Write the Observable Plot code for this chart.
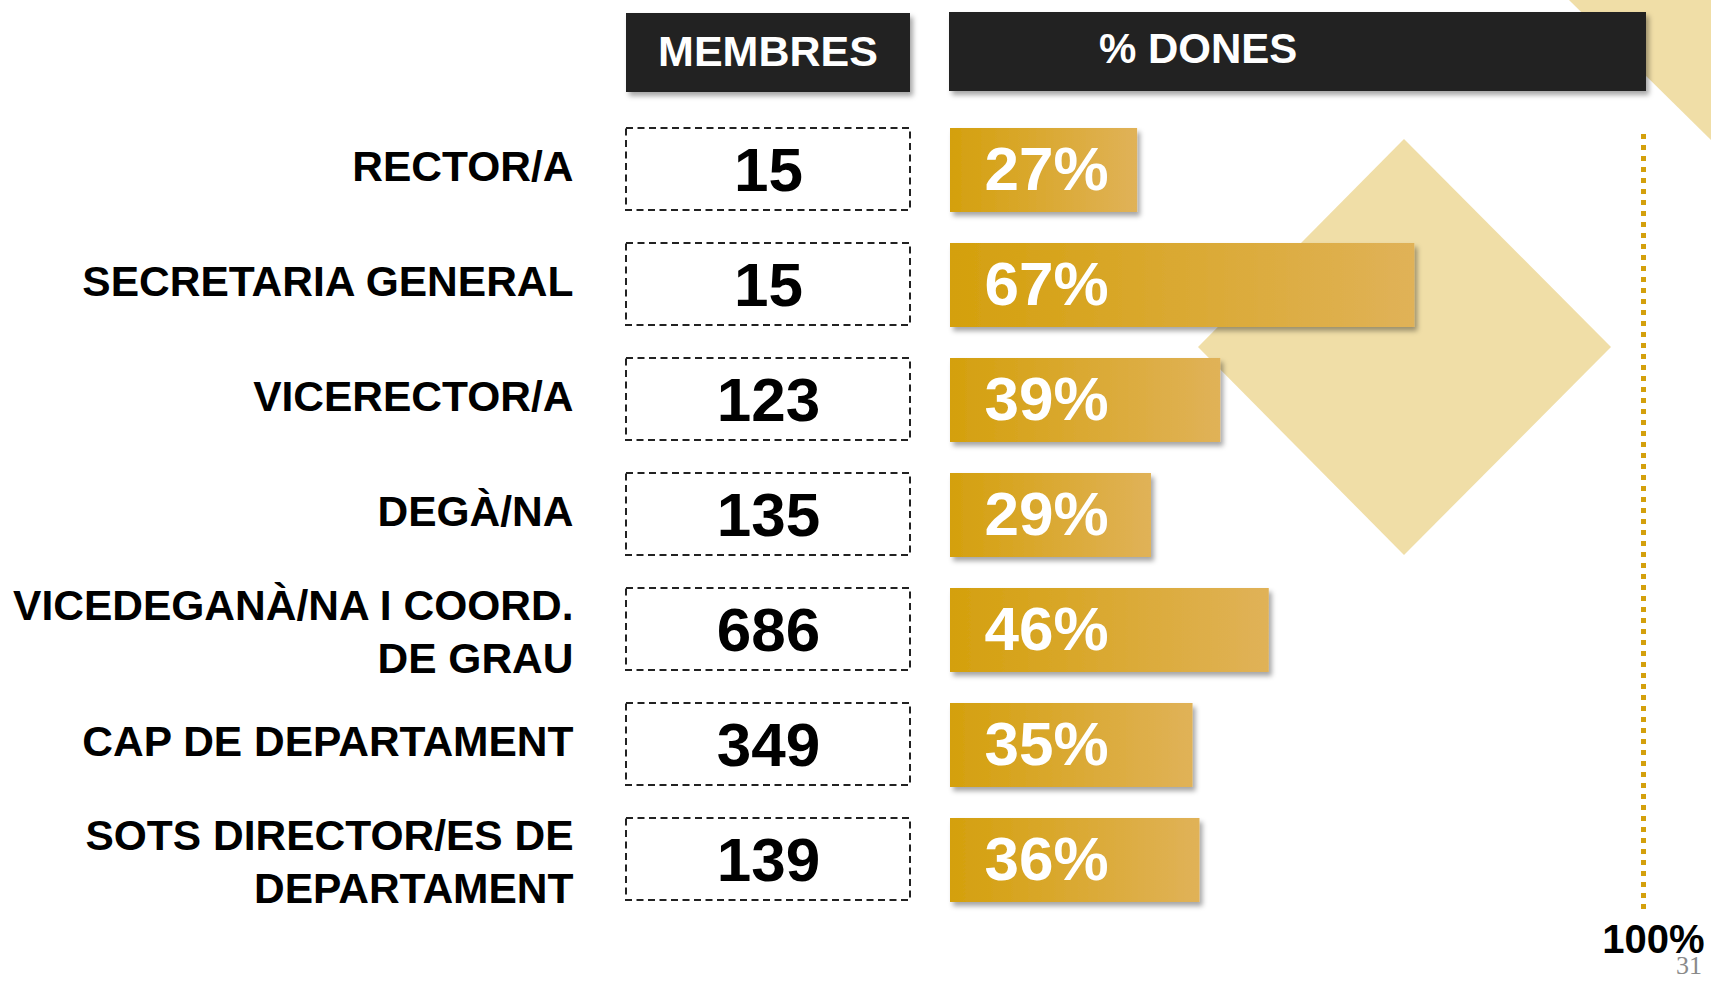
<!DOCTYPE html>
<html>
<head>
<meta charset="utf-8">
<script src="https://cdn.jsdelivr.net/npm/d3@7"></script>
<script src="https://cdn.jsdelivr.net/npm/@observablehq/plot@0.6"></script>
<style>
  html, body { margin: 0; padding: 0; background: #fff; }
  #page { position: relative; width: 1711px; height: 981px; overflow: hidden;
          font-family: "Liberation Sans", Arial, sans-serif; }
  #bg, #chart { position: absolute; left: 0; top: 0; }
  .hdr { position: absolute; background: #222222; color: #fff; font-weight: bold;
         box-shadow: 3px 4px 5px rgba(0,0,0,0.35); display: flex; align-items: center;
         box-sizing: border-box; white-space: nowrap; }
  #h1 { left: 626px; top: 13px; width: 284px; height: 79px; justify-content: center; font-size: 43px; padding-bottom: 2px; }
  #h2 { left: 949px; top: 12px; width: 697px; height: 79px; padding-left: 150px; font-size: 42px; padding-bottom: 5px; }
</style>
</head>
<body>
<div id="page">
  <svg id="bg" width="1711" height="981">
    <polygon points="1569,0 1711,0 1711,140" fill="#F0DEA7"/>
    <polygon points="1404,139 1611,347 1404,555 1198,347" fill="#F0DEA7"/>
    <text x="1702" y="974" text-anchor="end" font-family="'Liberation Serif', serif" font-size="26" fill="#8a8a8a">31</text>
  </svg>
  <div id="chart"></div>
  <div class="hdr" id="h1">MEMBRES</div>
  <div class="hdr" id="h2">% DONES</div>
</div>
<script>
// ---- data ----
const categories = [
  "RECTOR/A",
  "SECRETARIA GENERAL",
  "VICERECTOR/A",
  "DEGÀ/NA",
  "VICEDEGANÀ/NA I COORD.\nDE GRAU",
  "CAP DE DEPARTAMENT",
  "SOTS DIRECTOR/ES DE\nDEPARTAMENT"
];
const members = [15, 15, 123, 135, 686, 349, 139];
const womenPct = [27, 67, 39, 29, 46, 35, 36];
const refLine = [100];

const rows = categories.map((c, i) => ({cat: c, members: members[i], pct: womenPct[i]}));
const isMulti = d => d.cat.includes("\n");

// ---- layout ----
const W = 1711, H = 981, X0 = 950, X100 = 1643;
const px = p => (p - X0) / (X100 - X0) * 100; // page pixel -> percent units

const defsMark = () => {
  const defs = d3.create("svg:defs");
  const g = defs.append("linearGradient").attr("id", "barGrad")
    .attr("x1", 0).attr("x2", 1).attr("y1", 0).attr("y2", 0);
  g.append("stop").attr("offset", "0%").attr("stop-color", "#D4A00D");
  g.append("stop").attr("offset", "100%").attr("stop-color", "#E0B258");
  const f = defs.append("filter").attr("id", "shadow")
    .attr("x", "-10%").attr("y", "-10%").attr("width", "125%").attr("height", "130%");
  f.append("feDropShadow").attr("dx", 3).attr("dy", 4).attr("stdDeviation", 2.5)
    .attr("flood-color", "#000").attr("flood-opacity", 0.35);
  return defs.node();
};

const labelOpts = {y: "cat", x: px(573), text: "cat", textAnchor: "end", fontSize: 42.5,
  fontWeight: "bold", fill: "#000"};

const chart = Plot.plot({
  width: W, height: H,
  marginLeft: X0, marginRight: W - X100, marginTop: 110, marginBottom: 61,
  style: {background: "transparent", fontFamily: "'Liberation Sans', Arial, sans-serif", overflow: "visible"},
  x: {domain: [0, 100], axis: null},
  y: {domain: categories, axis: null, paddingInner: 0.27, paddingOuter: 0.135},
  marks: [
    defsMark,
    Plot.barX(rows, {y: "cat", x1: px(626), x2: px(910), fill: "none", stroke: "#222",
      strokeWidth: 2, strokeDasharray: "7,4.5", insetBottom: 2}),
    Plot.text(rows, {y: "cat", x: px(768), text: d => String(d.members), fontSize: 62,
      fontWeight: "bold", fill: "#000", dy: 1}),
    Plot.text(rows.filter(d => !isMulti(d)), {...labelOpts, dy: -3}),
    Plot.text(rows.filter(isMulti), {...labelOpts, lineHeight: 1.25, dy: -1}),
    Plot.barX(rows, {y: "cat", x: "pct", fill: "url(#barGrad)", ariaLabel: "pct-bar"}),
    Plot.text(rows, {y: "cat", x: 0, dx: 34, text: d => d.pct + "%", textAnchor: "start",
      fill: "#fff", fontSize: 62, fontWeight: "bold", dy: 0}),
    Plot.ruleX(refLine, {x: d => d, stroke: "#D4A00C", strokeWidth: 5, strokeDasharray: "5,6",
      insetTop: 24, insetBottom: 11}),
    Plot.text(refLine, {x: d => d, text: d => d + "%", frameAnchor: "bottom", dx: 10, dy: 32,
      fontSize: 40, fontWeight: "bold", fill: "#000"})
  ]
});
d3.select(chart).selectAll("g")
  .filter(function() { return this.getAttribute("fill") === "url(#barGrad)"; })
  .attr("filter", "url(#shadow)");
document.getElementById("chart").appendChild(chart);
</script>
</body>
</html>
